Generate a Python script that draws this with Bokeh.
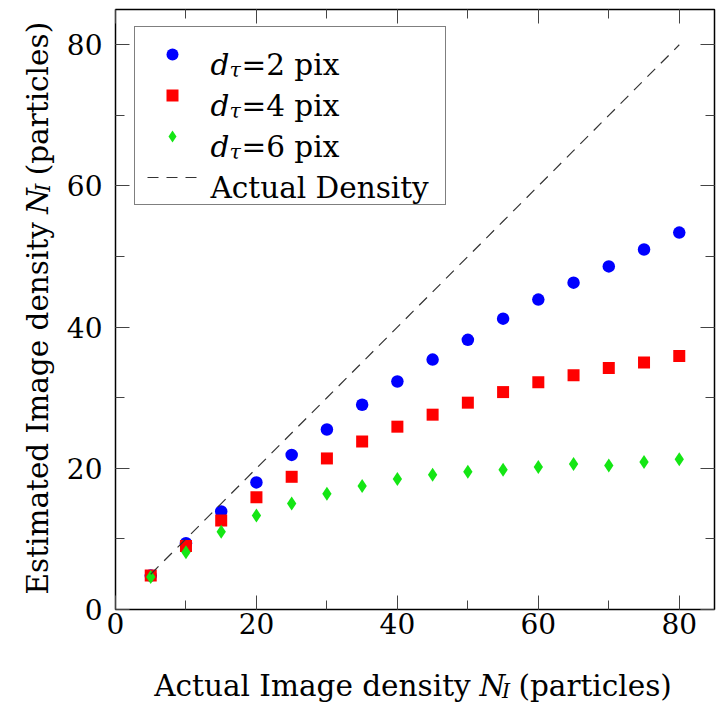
import math
from bokeh.plotting import figure
from bokeh.layouts import row, column
from bokeh.models import (Range1d, LinearAxis, SingleIntervalTicker, Legend, LegendItem,
                          Label, CustomJSTickFormatter, ColumnDataSource)
from bokeh.core.properties import value
from bokeh.embed import file_html
from bokeh.resources import INLINE

# ---------------- data ----------------
actual_density = [5, 10, 15, 20, 25, 30, 35, 40, 45, 50, 55, 60, 65, 70, 75, 80]
est_d2 = [4.8, 9.4, 13.9, 18.0, 21.9, 25.5, 29.0, 32.3, 35.4, 38.2, 41.2, 43.9, 46.3, 48.6, 51.0, 53.4]
est_d4 = [4.8, 9.0, 12.6, 15.9, 18.8, 21.4, 23.8, 25.9, 27.6, 29.3, 30.8, 32.2, 33.2, 34.2, 35.0, 35.9]
est_d6 = [4.6, 8.1, 11.0, 13.3, 15.0, 16.4, 17.5, 18.5, 19.1, 19.5, 19.8, 20.2, 20.6, 20.4, 20.9, 21.3]
d_tau_values = [2, 4, 6]
line_label = "Actual Density"
x_title = ["Actual Image density", "N", "I", "(particles)"]
y_title = ["Estimated Image density", "N", "I", "(particles)"]
axis_max = 85
major_interval = 20

FONT = "DejaVu Serif"
FS = "29.5px"
TICK_FS = "28px"
SUB_FS = "20.5px"

src = ColumnDataSource(dict(x=actual_density, d2=est_d2, d4=est_d4, d6=est_d6, act=actual_density))

# layout geometry (pixels)
LEFT_W = 60          # strip holding the y title
MAIN_W = 656
MAIN_H = 659
BOTTOM_H = 44        # strip holding the x title

p = figure(width=MAIN_W, height=MAIN_H, x_range=Range1d(0, axis_max), y_range=Range1d(0, axis_max),
           output_backend="svg", toolbar_location=None,
           min_border_left=55, min_border_right=2, min_border_top=9, min_border_bottom=50)
p.xgrid.visible = False
p.ygrid.visible = False
p.outline_line_color = "black"
p.outline_line_width = 1.5
p.outline_line_alpha = 1.0
p.background_fill_color = "white"
p.border_fill_color = "white"


def style_axis(ax, labels=True):
    ax.ticker = SingleIntervalTicker(interval=major_interval, num_minor_ticks=2)
    ax.major_tick_in = 14
    ax.major_tick_out = 0
    ax.minor_tick_in = 9
    ax.minor_tick_out = 0
    ax.major_tick_line_color = "#444444"
    ax.minor_tick_line_color = "#444444"
    ax.major_tick_line_width = 1
    ax.minor_tick_line_width = 1
    ax.axis_line_color = None
    ax.major_label_text_font = FONT
    ax.major_label_text_color = "black"
    if labels:
        ax.major_label_text_font_size = TICK_FS
    else:
        ax.formatter = CustomJSTickFormatter(code="return ''")
        ax.major_label_text_font_size = "1px"
        ax.major_label_standoff = 0


style_axis(p.xaxis[0])
style_axis(p.yaxis[0])
p.xaxis[0].major_label_standoff = 3
p.yaxis[0].major_label_standoff = 13

top_axis = LinearAxis()
right_axis = LinearAxis()
style_axis(top_axis, labels=False)
style_axis(right_axis, labels=False)
p.add_layout(top_axis, "above")
p.add_layout(right_axis, "right")

# ---------------- glyphs ----------------
r2 = p.scatter("x", "d2", source=src, marker="circle", size=12.5, fill_color="#0000ff", line_color=None)
r4 = p.scatter("x", "d4", source=src, marker="square", size=12, fill_color="#ff0000", line_color=None)
r6 = p.scatter("x", "d6", source=src, marker="diamond", size=14, fill_color="#14e614", line_color=None)
rl = p.line("x", "act", source=src, line_color="#333333", line_width=1.2, line_dash="11 8")

# ---------------- legend ----------------
leg_pad = 12
leg_glyph_w = 50
leg_row_h = 30
leg_spacing = 11
leg_standoff = 14
leg_left = 19
leg_height = 2 * leg_pad + 4 * leg_row_h + 3 * leg_spacing
leg_bottom = 404
legend = Legend(items=[LegendItem(label=value(""), renderers=[r]) for r in (r2, r4, r6, rl)],
                location=(leg_left, leg_bottom), margin=0, padding=leg_pad,
                glyph_width=leg_glyph_w, glyph_height=leg_row_h, label_height=leg_row_h,
                label_width=222, label_standoff=leg_standoff, spacing=leg_spacing,
                label_text_font_size="1px", border_line_color="black", border_line_width=1.3,
                background_fill_alpha=0.0)
p.add_layout(legend)

leg_top = leg_bottom + leg_height
text_x = leg_left + leg_pad + leg_glyph_w + leg_standoff


def lab(fig, x, y, text, size=FS, italic=False, angle=0.0):
    fig.add_layout(Label(x=x, y=y, x_units="screen", y_units="screen", text=text,
                         text_font=FONT, text_font_size=size,
                         text_font_style="italic" if italic else "normal",
                         text_color="black", text_align="left", text_baseline="alphabetic",
                         angle=angle, level="overlay"))


for i in range(4):
    center = leg_top - leg_pad - i * (leg_row_h + leg_spacing) - leg_row_h / 2
    base = center - 9
    if i < 3:
        lab(p, text_x, base, "d", italic=True)
        lab(p, text_x + 19, base - 5, "\u03c4", size=SUB_FS, italic=True)
        lab(p, text_x + 31, base, "=%d pix" % d_tau_values[i])
    else:
        lab(p, text_x, base, line_label)


def blank_fig(w, h):
    f = figure(width=w, height=h, x_range=Range1d(0, 1), y_range=Range1d(0, 1),
               output_backend="svg", toolbar_location=None,
               x_axis_location=None, y_axis_location=None,
               min_border_left=0, min_border_right=0, min_border_top=0, min_border_bottom=0)
    f.outline_line_color = None
    f.background_fill_color = "white"
    f.border_fill_color = "white"
    f.grid.visible = False
    return f


# ---------------- y title (strip left of the plot; its frame lines up with the plot frame) ----------------
ly = blank_fig(LEFT_W, MAIN_H)
yb = 37
y0 = 15
rot = math.pi / 2
lab(ly, yb, y0, y_title[0], angle=rot)
lab(ly, yb, y0 + 380.4, y_title[1], italic=True, angle=rot)
lab(ly, yb + 5, y0 + 402.7, y_title[2], size=SUB_FS, italic=True, angle=rot)
lab(ly, yb, y0 + 419.2, y_title[3], angle=rot)

# ---------------- x title (strip below everything) ----------------
bx = blank_fig(LEFT_W + MAIN_W, BOTTOM_H)
xb = 18
x0 = 153.7
lab(bx, x0, xb, x_title[0])
lab(bx, x0 + 325.4, xb, x_title[1], italic=True)
lab(bx, x0 + 347.7, xb - 5, x_title[2], size=SUB_FS, italic=True)
lab(bx, x0 + 364.2, xb, x_title[3])

layout = column(row(ly, p, spacing=0), bx, spacing=0)
open("out.html", "w").write(file_html(layout, INLINE))
